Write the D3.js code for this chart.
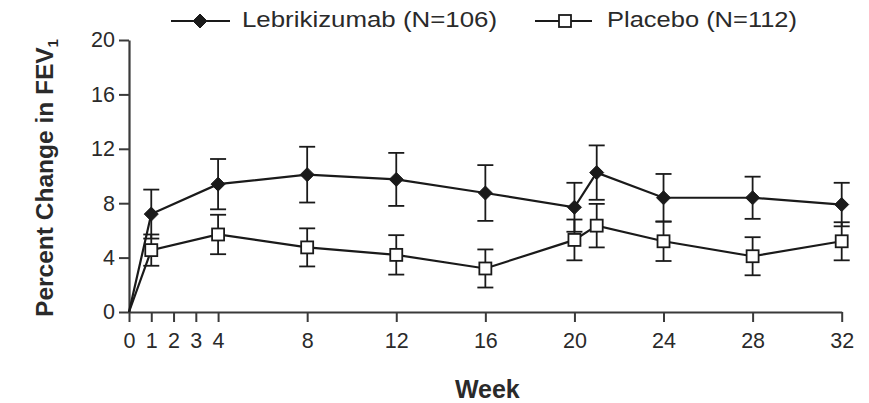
<!DOCTYPE html>
<html>
<head>
<meta charset="utf-8">
<script src="https://cdn.jsdelivr.net/npm/d3@7"></script>
<style>
  html, body { margin: 0; padding: 0; background: #fff; }
  svg { display: block; }
  text { font-family: "Liberation Sans", Arial, sans-serif; fill: #2a2a2a; }
</style>
</head>
<body>
<svg id="chart" width="869" height="403"></svg>
<script>
// Study weeks at which FEV1 was measured
const weeks = [0, 1, 4, 8, 12, 16, 20, 21, 24, 28, 32];

// Mean percent change in FEV1 and standard error, by treatment group
const lebrikizumab = [0, 7.2, 9.4, 10.1, 9.75, 8.75, 7.7, 10.25, 8.4, 8.4, 7.9];
const lebrikizumabErr = [0, 1.8, 1.85, 2.05, 1.95, 2.05, 1.8, 2.0, 1.75, 1.55, 1.6];
const placebo = [0, 4.55, 5.7, 4.75, 4.2, 3.2, 5.3, 6.35, 5.2, 4.1, 5.2];
const placeboErr = [0, 1.15, 1.45, 1.4, 1.45, 1.4, 1.5, 1.6, 1.45, 1.4, 1.4];

// Axis ticks
const xTicks = [0, 1, 2, 3, 4, 8, 12, 16, 20, 24, 28, 32];
const yTicks = [0, 4, 8, 12, 16, 20];

const seriesNames = ["Lebrikizumab (N=106)", "Placebo (N=112)"];

const svg = d3.select("#chart");
const ink = "#1a1a1a";
const labelFont = "'Open Sans', 'Liberation Sans', sans-serif";

const x = d3.scaleLinear().domain([0, 32]).range([129, 841.7]);
const y = d3.scaleLinear().domain([0, 20]).range([312, 40]);

// Axes
const xAxis = svg.append("g")
  .attr("transform", `translate(0,${y(0)})`)
  .call(d3.axisBottom(x).tickValues(xTicks).tickSize(10).tickSizeOuter(0).tickPadding(11));
const yAxis = svg.append("g")
  .attr("transform", `translate(${x(0)},0)`)
  .call(d3.axisLeft(y).tickValues(yTicks).tickSize(10).tickSizeOuter(0).tickPadding(4));

[xAxis, yAxis].forEach(g => {
  g.selectAll("path.domain").attr("stroke", "#3a3a3a").attr("stroke-width", 2.2);
  g.selectAll(".tick line").attr("stroke", "#3a3a3a").attr("stroke-width", 2);
  g.selectAll(".tick text")
    .attr("font-family", labelFont)
    .attr("font-size", 21.5)
    .attr("fill", "#2a2a2a");
});

// Axis titles
svg.append("text")
  .attr("x", x(16) + 2).attr("y", 398)
  .attr("text-anchor", "middle")
  .attr("font-size", 25).attr("font-weight", "bold")
  .attr("fill", "#222")
  .text("Week");

const yTitle = svg.append("text")
  .attr("transform", "translate(53,178) rotate(-90)")
  .attr("text-anchor", "middle")
  .attr("font-size", 24.5).attr("font-weight", "bold")
  .attr("fill", "#222");
yTitle.append("tspan").text("Percent Change in FEV");
yTitle.append("tspan").attr("font-size", 15).attr("dy", 5).text("1");

// Series
const series = [
  { name: seriesNames[0], values: lebrikizumab, err: lebrikizumabErr, marker: "diamond" },
  { name: seriesNames[1], values: placebo, err: placeboErr, marker: "square" }
];

const line = d3.line().x(d => x(d.week)).y(d => y(d.value));
const capHalf = 8;

function drawMarker(g, type, cx, cy, scale = 1) {
  if (type === "diamond") {
    const r = 7 * scale;
    g.append("path")
      .attr("d", `M${cx},${cy - r}L${cx + r},${cy}L${cx},${cy + r}L${cx - r},${cy}Z`)
      .attr("fill", ink).attr("stroke", ink).attr("stroke-width", 1);
  } else {
    const h = 6 * scale;
    g.append("rect")
      .attr("x", cx - h).attr("y", cy - h).attr("width", 2 * h).attr("height", 2 * h)
      .attr("fill", "#fff").attr("stroke", ink).attr("stroke-width", 1.8);
  }
}

// Error bars first, then connecting lines, then markers on top
const errLayer = svg.append("g");
const lineLayer = svg.append("g");
const markLayer = svg.append("g");

series.forEach(s => {
  const pts = weeks.map((w, i) => ({ week: w, value: s.values[i], err: s.err[i] }));
  pts.filter(p => p.week > 0).forEach(p => {
    const cx = x(p.week), hi = y(p.value + p.err), lo = y(p.value - p.err);
    const eg = errLayer.append("g").attr("stroke", ink).attr("stroke-width", 1.8);
    eg.append("line").attr("x1", cx).attr("x2", cx).attr("y1", hi).attr("y2", lo);
    eg.append("line").attr("x1", cx - capHalf).attr("x2", cx + capHalf).attr("y1", hi).attr("y2", hi);
    eg.append("line").attr("x1", cx - capHalf).attr("x2", cx + capHalf).attr("y1", lo).attr("y2", lo);
  });
  lineLayer.append("path")
    .datum(pts)
    .attr("d", line)
    .attr("fill", "none").attr("stroke", ink).attr("stroke-width", 2.2);
});

series.forEach(s => {
  weeks.forEach((w, i) => {
    if (w > 0) drawMarker(markLayer, s.marker, x(w), y(s.values[i]));
  });
});

// Legend
const legend = [
  { x1: 171, x2: 230, mx: 200, tx: 242, len: 255 },
  { x1: 535, x2: 592, mx: 565, tx: 607, len: 190 }
];
legend.forEach((l, i) => {
  svg.append("line").attr("x1", l.x1).attr("x2", l.x2).attr("y1", 21).attr("y2", 21)
    .attr("stroke", ink).attr("stroke-width", 2.2);
  drawMarker(svg, series[i].marker, l.mx, 21, 1);
  svg.append("text").attr("x", l.tx).attr("y", 27)
    .attr("font-family", labelFont)
    .attr("font-size", 21.5).attr("fill", "#2a2a2a")
    .attr("textLength", l.len).attr("lengthAdjust", "spacingAndGlyphs")
    .text(series[i].name);
});
</script>
</body>
</html>
